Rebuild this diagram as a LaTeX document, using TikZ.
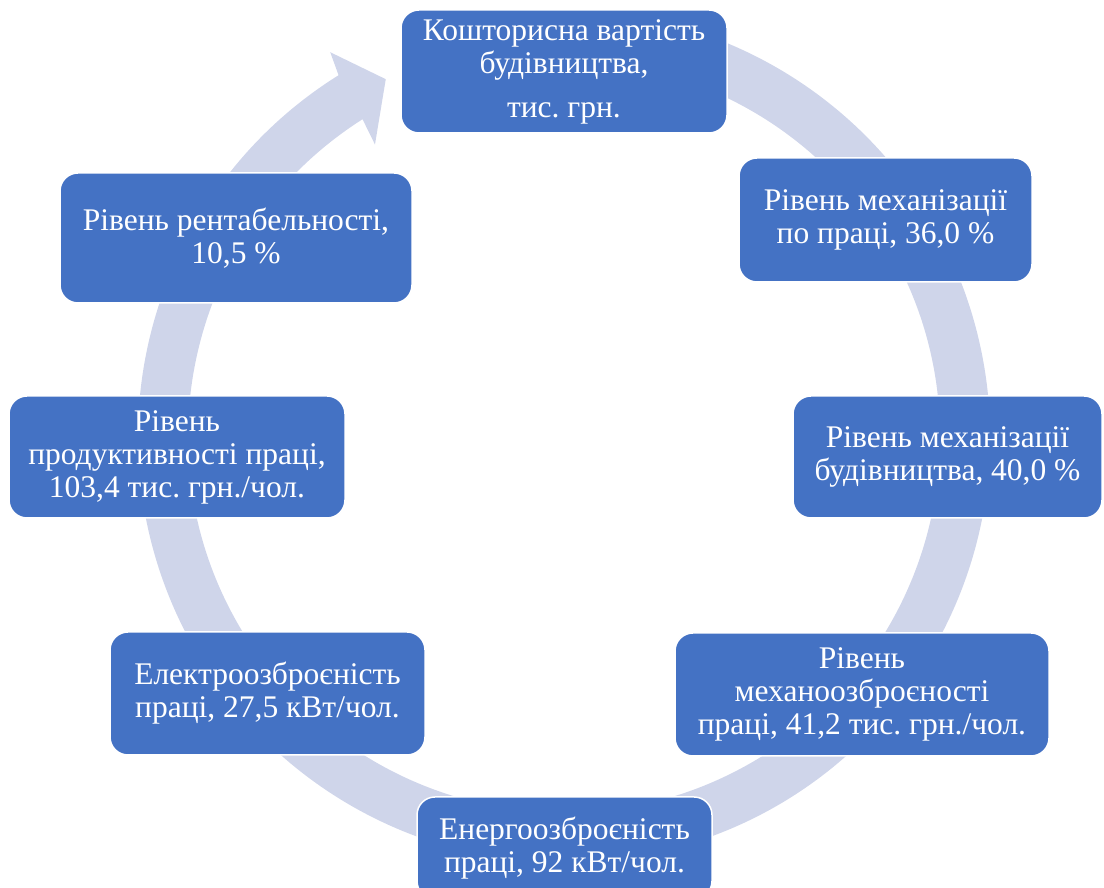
\documentclass[tikz,border=0pt]{standalone}
\usepackage{fontspec}
\setmainfont{Liberation Serif}
\frenchspacing
\definecolor{boxblue}{HTML}{4472C4}
\definecolor{ringcol}{HTML}{CFD5EA}
\begin{document}
\begin{tikzpicture}[x=1pt,y=1pt,
  box/.style={draw=white, line width=1.5pt, fill=boxblue, rounded corners=18pt,
    text=white, align=center, inner sep=0pt,
    font=\fontsize{31.5}{33}\selectfont}]
\useasboundingbox (0,0) rectangle (1104,888);
\clip (0,0) rectangle (1104,888);
% ring arrow
\begin{scope}[shift={(564pt,451.3pt)}]
\fill[ringcol] (105:426pt) arc[start angle=105, end angle=-238.05, radius=426pt]
  -- (-238.7:450pt) -- (-243.5:399.5pt) -- (-237.1:348pt) -- (-237.6:376pt)
  arc[start angle=-237.6, end angle=105, radius=376pt] -- cycle;
\end{scope}
% boxes
\node[box, minimum width=326pt, minimum height=123pt] (n1) at (564,816.5)
  {Кошторисна вартість\\будівництва,\\[11pt]тис. грн.};
\node[box, minimum width=293pt, minimum height=124pt] (n2) at (885.5,668)
  {Рівень механізації\\по праці, 36,0 \%};
\node[box, minimum width=309pt, minimum height=122pt] (n3) at (947.5,431)
  {Рівень механізації\\будівництва, 40,0 \%};
\node[box, minimum width=374pt, minimum height=123pt] (n4) at (862,193.5)
  {Рівень\\механоозброєності\\праці, 41,2 тис. грн./чол.};
\node[box, minimum width=295pt, minimum height=102pt] (n5) at (564.5,40)
  {Енергоозброєність\\праці, 92 кВт/чол.};
\node[box, minimum width=315pt, minimum height=123pt] (n6) at (267.5,194.5)
  {Електроозброєність\\праці, 27,5 кВт/чол.};
\node[box, minimum width=336pt, minimum height=122pt] (n7) at (177,431)
  {Рівень\\продуктивності праці,\\103,4 тис. грн./чол.};
\node[box, minimum width=352pt, minimum height=130pt] (n8) at (236,650)
  {Рівень рентабельності,\\10,5 \%};
\end{tikzpicture}
\end{document}
